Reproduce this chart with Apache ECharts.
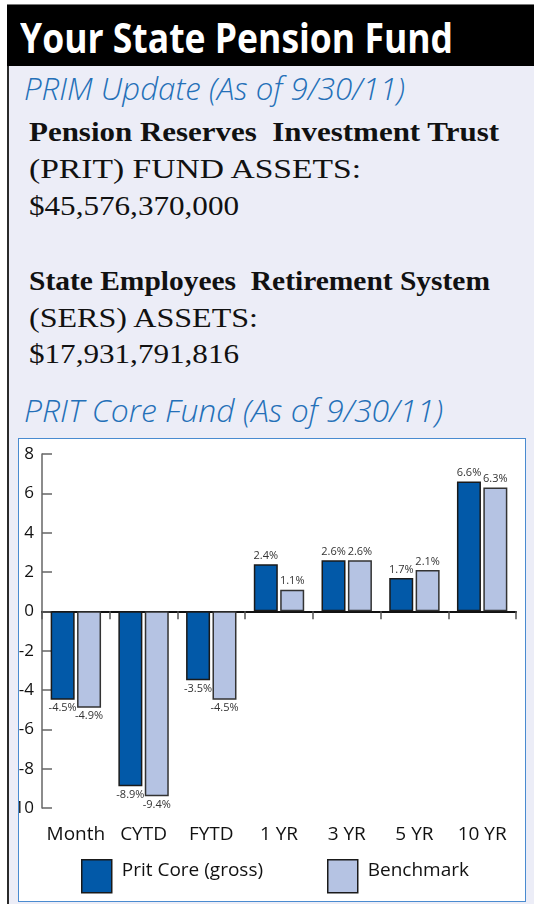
<!DOCTYPE html>
<html>
<head>
<meta charset="utf-8">
<script src="https://cdn.jsdelivr.net/npm/echarts@6/dist/echarts.min.js"></script>
<style>
  html, body { margin: 0; padding: 0; background: #fff; }
  body { width: 534px; height: 904px; position: relative; overflow: hidden; }
  .header { position: absolute; left: 7px; top: 4px; width: 527px; height: 62px; background: #000; border-top: 1px solid #777; box-sizing: border-box; }
  .panel { position: absolute; left: 7px; top: 66px; width: 527px; height: 838px; background: #ecedf7; border-left: 2px solid #2a2a2a; box-sizing: border-box; }
  .txt { position: absolute; white-space: nowrap; transform-origin: 0 0; }
  .title { font-family: "Open Sans", sans-serif; font-weight: 700; font-size: 42px; line-height: 42px; color: #fff; }
  .sub { font-family: "Open Sans", sans-serif; font-style: italic; font-weight: 300; font-size: 31px; line-height: 31px; color: #2470b8; }
  .serif { font-family: "Liberation Serif", serif; font-size: 28px; line-height: 37px; color: #111; }
  .serif b { font-weight: bold; }
  .box { position: absolute; left: 18px; top: 438px; width: 508px; height: 464px; background: #fff; border: 1px solid #4a8bd0; box-sizing: border-box; }
  #chart { width: 506px; height: 462px; }
</style>
</head>
<body>
<div class="header"></div>
<div class="panel"></div>
<div class="txt title" data-w="433" style="left:20px; top:16px;">Your State Pension Fund</div>
<div class="txt sub" data-w="381" style="left:24px; top:73px;">PRIM Update (As of 9/30/11)</div>
<div class="txt serif" data-w="470" style="left:29px; top:113px;"><b>Pension Reserves&nbsp; Investment Trust</b></div>
<div class="txt serif" data-w="332" style="left:29px; top:150px;">(PRIT) FUND ASSETS:</div>
<div class="txt serif" data-w="210" style="left:29px; top:187px;">$45,576,370,000</div>
<div class="txt serif" data-w="461" style="left:29px; top:262px;"><b>State Employees&nbsp; Retirement System</b></div>
<div class="txt serif" data-w="229" style="left:29px; top:299px;">(SERS) ASSETS:</div>
<div class="txt serif" data-w="210" style="left:29px; top:335px;">$17,931,791,816</div>
<div class="txt sub" data-w="419" style="left:24px; top:395px;">PRIT Core Fund (As of 9/30/11)</div>
<div class="box"><div id="chart"></div></div>

<script>
  // squeeze each text line to the width it has in the print
  document.querySelectorAll('.txt').forEach(function (el) {
    var w = el.getBoundingClientRect().width
    var target = +el.getAttribute('data-w')
    if (w > 0 && target) el.style.transform = 'scaleX(' + (target / w) + ')'
  })

  var categories = ['Month', 'CYTD', 'FYTD', '1 YR', '3 YR', '5 YR', '10 YR']
  var pritCore = [-4.5, -8.9, -3.5, 2.4, 2.6, 1.7, 6.6]
  var benchmark = [-4.9, -9.4, -4.5, 1.1, 2.6, 2.1, 6.3]
  var yTicks = { min: -10, max: 8, interval: 2 }

  var chart = echarts.init(document.getElementById('chart'))
  var fontFamily = '"Open Sans", sans-serif'

  var valueLabel = {
    show: true,
    position: 'outside',
    distance: 3,
    fontSize: 11,
    fontFamily: fontFamily,
    color: '#333',
    formatter: function (p) { return p.value + '%' }
  }

  var legendBase = {
    icon: 'rect', itemWidth: 30, itemHeight: 33, itemGap: 10,
    selectedMode: false, padding: 0,
    itemStyle: { borderColor: '#1a1a1a', borderWidth: 1.5 },
    formatter: '{t|{name}}',
    textStyle: {
      rich: {
        t: { fontSize: 19, fontFamily: fontFamily, color: '#111', padding: [0, 0, 12, 5] }
      }
    }
  }

  var option = {
    animation: false,
    grid: { left: 23, right: 9, top: 15, bottom: 93, containLabel: false, outerBoundsMode: 'none' },
    legend: [
      Object.assign({ data: ['Prit Core (gross)'], left: 62, top: 420 }, legendBase),
      Object.assign({ data: ['Benchmark'], left: 308, top: 420 }, legendBase)
    ],
    xAxis: [
      {
        // axis drawn on the zero line, ticks only
        type: 'category',
        data: categories,
        axisLine: { onZero: true, lineStyle: { color: '#111', width: 2 } },
        axisTick: { show: true, length: 8, lineStyle: { color: '#555', width: 1.5 } },
        axisLabel: { show: false }
      },
      {
        // labels along the bottom
        type: 'category',
        data: categories,
        position: 'bottom',
        axisLine: { show: false, onZero: false },
        axisTick: { show: false },
        axisLabel: { interval: 0, margin: 17, fontSize: 19, fontFamily: fontFamily, color: '#111' }
      }
    ],
    yAxis: {
      type: 'value',
      min: yTicks.min,
      max: yTicks.max,
      interval: yTicks.interval,
      splitLine: { show: false },
      axisLine: { show: true, lineStyle: { color: '#666', width: 1.5 } },
      axisTick: { show: true, inside: true, length: 10, lineStyle: { color: '#666', width: 1.5 } },
      axisLabel: { margin: 8, fontSize: 17, fontFamily: fontFamily, color: '#111' }
    },
    series: [
      {
        name: 'Prit Core (gross)',
        type: 'bar',
        data: pritCore,
        barWidth: 24,
        barGap: '10%',
        itemStyle: { color: '#0259a8', borderColor: '#1a1a1a', borderWidth: 1.5 },
        label: valueLabel
      },
      {
        name: 'Benchmark',
        type: 'bar',
        data: benchmark,
        barWidth: 24,
        barGap: '10%',
        itemStyle: { color: '#b5c3e3', borderColor: '#333', borderWidth: 1.5 },
        label: valueLabel
      }
    ]
  }

  chart.setOption(option)
</script>
</body>
</html>
